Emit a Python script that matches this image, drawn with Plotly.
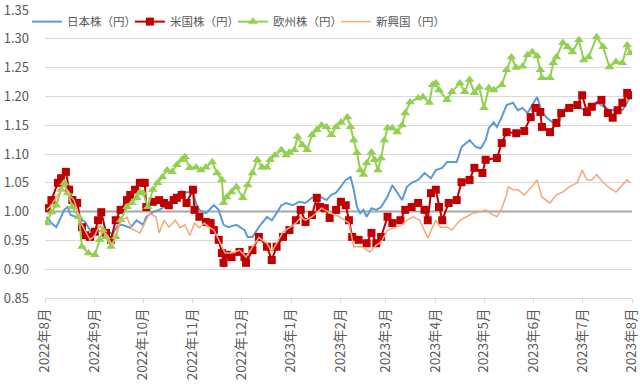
import plotly.graph_objects as go

FONT = "Noto Sans CJK JP"

# ---- data ----
series_names = ["日本株（円）", "米国株（円）", "欧州株（円）", "新興国（円）"]

jp_dates = ["2022-08-02","2022-08-05","2022-08-08","2022-08-10","2022-08-13","2022-08-15","2022-08-17","2022-08-20","2022-08-22","2022-08-26","2022-08-30","2022-09-04","2022-09-08","2022-09-12","2022-09-15","2022-09-18","2022-09-23","2022-09-27","2022-10-01","2022-10-03","2022-10-07","2022-10-11","2022-10-16","2022-10-20","2022-10-22","2022-10-25","2022-10-28","2022-11-01","2022-11-03","2022-11-05","2022-11-09","2022-11-13","2022-11-14","2022-11-17","2022-11-20","2022-11-23","2022-11-28","2022-12-03","2022-12-05","2022-12-08","2022-12-12","2022-12-17","2022-12-20","2022-12-23","2022-12-26","2022-12-29","2023-01-02","2023-01-06","2023-01-10","2023-01-14","2023-01-19","2023-01-23","2023-01-26","2023-01-29","2023-02-01","2023-02-04","2023-02-07","2023-02-09","2023-02-11","2023-02-13","2023-02-15","2023-02-17","2023-02-20","2023-02-23","2023-02-26","2023-03-02","2023-03-05","2023-03-08","2023-03-11","2023-03-14","2023-03-17","2023-03-21","2023-03-25","2023-03-29","2023-04-01","2023-04-05","2023-04-08","2023-04-14","2023-04-17","2023-04-22","2023-04-26","2023-04-29","2023-05-02","2023-05-04","2023-05-07","2023-05-09","2023-05-12","2023-05-15","2023-05-19","2023-05-22","2023-05-25","2023-05-28","2023-05-31","2023-06-03","2023-06-06","2023-06-09","2023-06-13","2023-06-17","2023-06-21","2023-06-28","2023-07-02","2023-07-10","2023-07-18","2023-07-26","2023-07-31"]
jp_values = [0.991,0.980,0.973,0.985,1.003,1.008,0.994,0.991,0.989,0.982,0.963,0.975,0.968,0.961,0.975,0.977,0.972,0.985,0.977,0.991,0.999,1.003,1.011,1.020,1.029,1.035,1.033,1.035,1.013,1.003,0.997,1.008,1.011,1.003,0.977,0.973,0.977,0.968,0.956,0.956,0.973,0.991,0.985,0.997,1.011,1.015,1.011,1.017,1.015,1.024,1.026,1.020,1.029,1.033,1.043,1.055,1.060,1.038,1.008,0.997,1.003,0.991,1.006,1.003,1.008,1.026,1.046,1.032,1.020,1.043,1.050,1.055,1.067,1.058,1.072,1.076,1.086,1.086,1.112,1.124,1.112,1.110,1.124,1.145,1.155,1.147,1.164,1.185,1.189,1.176,1.180,1.171,1.185,1.199,1.173,1.163,1.154,1.159,1.182,1.185,1.176,1.190,1.176,1.176,1.199]

us_dates = ["2022-08-02","2022-08-05","2022-08-09","2022-08-11","2022-08-14","2022-08-16","2022-08-18","2022-08-21","2022-08-24","2022-08-26","2022-08-29","2022-09-01","2022-09-03","2022-09-05","2022-09-08","2022-09-11","2022-09-14","2022-09-17","2022-09-21","2022-09-23","2022-09-26","2022-09-29","2022-10-02","2022-10-03","2022-10-07","2022-10-11","2022-10-14","2022-10-17","2022-10-20","2022-10-22","2022-10-25","2022-10-28","2022-11-01","2022-11-02","2022-11-05","2022-11-09","2022-11-12","2022-11-14","2022-11-17","2022-11-19","2022-11-20","2022-11-22","2022-11-25","2022-11-30","2022-12-03","2022-12-04","2022-12-08","2022-12-12","2022-12-17","2022-12-20","2022-12-23","2022-12-27","2022-12-31","2023-01-04","2023-01-07","2023-01-10","2023-01-14","2023-01-17","2023-01-19","2023-01-22","2023-01-25","2023-01-29","2023-02-01","2023-02-04","2023-02-06","2023-02-08","2023-02-12","2023-02-17","2023-02-20","2023-02-23","2023-02-26","2023-03-02","2023-03-05","2023-03-10","2023-03-13","2023-03-17","2023-03-21","2023-03-25","2023-03-27","2023-03-29","2023-04-01","2023-04-03","2023-04-05","2023-04-09","2023-04-14","2023-04-17","2023-04-22","2023-04-25","2023-04-30","2023-05-02","2023-05-09","2023-05-12","2023-05-15","2023-05-21","2023-05-26","2023-05-30","2023-06-02","2023-06-05","2023-06-06","2023-06-11","2023-06-15","2023-06-18","2023-06-23","2023-06-28","2023-07-01","2023-07-04","2023-07-07","2023-07-13","2023-07-17","2023-07-20","2023-07-23","2023-07-26","2023-07-29","2023-07-31"]
us_values = [1.006,1.020,1.050,1.058,1.069,1.038,1.020,1.015,0.973,0.959,0.956,0.965,0.985,0.999,0.963,0.951,0.985,1.003,1.020,1.029,1.038,1.050,1.050,1.008,1.017,1.020,1.015,1.011,1.020,1.024,1.029,1.015,1.038,1.003,0.991,0.982,0.980,0.968,0.951,0.928,0.911,0.925,0.921,0.930,0.921,0.911,0.933,0.956,0.939,0.916,0.939,0.956,0.968,0.985,1.003,0.982,0.994,1.024,1.008,1.006,0.989,1.003,1.017,1.011,0.985,0.956,0.951,0.945,0.963,0.945,0.956,0.991,0.980,0.985,1.003,1.008,1.015,1.003,0.985,1.032,1.038,1.008,0.985,1.015,1.020,1.051,1.055,1.076,1.067,1.090,1.093,1.119,1.138,1.136,1.140,1.164,1.180,1.173,1.147,1.138,1.154,1.171,1.180,1.185,1.202,1.173,1.182,1.194,1.171,1.163,1.176,1.189,1.206,1.202]

eu_dates = ["2022-08-02","2022-08-05","2022-08-08","2022-08-11","2022-08-13","2022-08-15","2022-08-18","2022-08-22","2022-08-24","2022-08-28","2022-09-01","2022-09-04","2022-09-06","2022-09-08","2022-09-11","2022-09-14","2022-09-17","2022-09-21","2022-09-24","2022-09-27","2022-09-29","2022-10-01","2022-10-04","2022-10-07","2022-10-10","2022-10-13","2022-10-16","2022-10-19","2022-10-22","2022-10-25","2022-10-27","2022-10-30","2022-11-03","2022-11-06","2022-11-09","2022-11-13","2022-11-16","2022-11-19","2022-11-20","2022-11-22","2022-11-25","2022-11-28","2022-12-02","2022-12-05","2022-12-08","2022-12-11","2022-12-14","2022-12-17","2022-12-19","2022-12-22","2022-12-26","2022-12-29","2022-12-31","2023-01-03","2023-01-05","2023-01-08","2023-01-11","2023-01-14","2023-01-17","2023-01-20","2023-01-23","2023-01-26","2023-01-29","2023-02-01","2023-02-05","2023-02-07","2023-02-09","2023-02-11","2023-02-13","2023-02-15","2023-02-17","2023-02-20","2023-02-22","2023-02-24","2023-02-26","2023-02-28","2023-03-02","2023-03-05","2023-03-08","2023-03-11","2023-03-13","2023-03-16","2023-03-21","2023-03-24","2023-03-28","2023-03-30","2023-04-01","2023-04-03","2023-04-08","2023-04-11","2023-04-16","2023-04-19","2023-04-22","2023-04-25","2023-04-28","2023-05-01","2023-05-04","2023-05-07","2023-05-12","2023-05-15","2023-05-18","2023-05-21","2023-05-25","2023-05-28","2023-05-31","2023-06-03","2023-06-05","2023-06-06","2023-06-11","2023-06-13","2023-06-15","2023-06-19","2023-06-22","2023-06-25","2023-06-29","2023-07-02","2023-07-05","2023-07-10","2023-07-14","2023-07-18","2023-07-22","2023-07-26","2023-07-29","2023-07-31"]
eu_values = [0.980,0.999,1.011,1.038,1.050,1.032,1.008,0.991,0.939,0.928,0.925,0.951,0.968,0.956,0.939,0.956,0.985,1.008,1.015,1.024,1.034,1.032,1.008,1.038,1.050,1.060,1.072,1.069,1.081,1.090,1.095,1.076,1.077,1.072,1.077,1.086,1.067,1.055,1.015,1.025,1.034,1.043,1.024,1.046,1.067,1.090,1.077,1.077,1.090,1.098,1.107,1.098,1.103,1.107,1.130,1.116,1.107,1.133,1.142,1.150,1.147,1.133,1.147,1.155,1.164,1.147,1.124,1.102,1.072,1.064,1.084,1.103,1.090,1.072,1.093,1.124,1.145,1.145,1.138,1.150,1.171,1.190,1.197,1.199,1.189,1.220,1.223,1.211,1.194,1.208,1.223,1.208,1.229,1.206,1.216,1.180,1.215,1.211,1.220,1.246,1.268,1.250,1.252,1.272,1.277,1.270,1.246,1.232,1.232,1.258,1.268,1.293,1.286,1.277,1.298,1.263,1.268,1.303,1.286,1.251,1.260,1.258,1.289,1.275]

em_dates = ["2022-08-02","2022-08-05","2022-08-09","2022-08-11","2022-08-13","2022-08-16","2022-08-19","2022-08-24","2022-08-29","2022-09-01","2022-09-04","2022-09-08","2022-09-12","2022-09-17","2022-09-21","2022-09-24","2022-09-27","2022-09-29","2022-10-02","2022-10-05","2022-10-09","2022-10-11","2022-10-14","2022-10-17","2022-10-21","2022-10-24","2022-10-27","2022-10-30","2022-11-02","2022-11-05","2022-11-08","2022-11-11","2022-11-14","2022-11-17","2022-11-21","2022-11-25","2022-11-30","2022-12-04","2022-12-08","2022-12-12","2022-12-17","2022-12-20","2022-12-23","2022-12-27","2022-12-31","2023-01-04","2023-01-07","2023-01-10","2023-01-14","2023-01-20","2023-01-25","2023-01-31","2023-02-06","2023-02-09","2023-02-14","2023-02-19","2023-02-23","2023-02-26","2023-03-02","2023-03-06","2023-03-11","2023-03-14","2023-03-18","2023-03-22","2023-03-27","2023-03-30","2023-04-01","2023-04-04","2023-04-08","2023-04-11","2023-04-16","2023-04-20","2023-04-24","2023-04-28","2023-05-02","2023-05-05","2023-05-09","2023-05-12","2023-05-15","2023-05-16","2023-05-19","2023-05-22","2023-05-26","2023-05-30","2023-06-03","2023-06-06","2023-06-11","2023-06-15","2023-06-19","2023-06-23","2023-06-28","2023-07-01","2023-07-04","2023-07-07","2023-07-10","2023-07-14","2023-07-18","2023-07-22","2023-07-25","2023-07-29","2023-07-31"]
em_values = [1.003,1.011,1.029,1.038,1.046,1.029,1.020,0.977,0.951,0.959,0.977,0.959,0.942,0.985,0.990,0.970,0.965,0.963,0.980,0.997,0.991,0.963,0.985,0.973,0.985,0.972,0.977,0.959,0.980,0.972,0.980,0.973,0.968,0.951,0.928,0.928,0.933,0.921,0.938,0.955,0.945,0.930,0.945,0.965,0.972,0.980,0.990,0.985,0.991,1.006,0.998,0.991,0.980,0.939,0.939,0.930,0.942,0.947,0.968,0.972,0.977,0.985,0.991,0.985,0.954,0.973,0.985,0.973,0.973,0.968,0.985,0.991,0.997,0.999,1.003,0.997,0.991,1.006,1.029,1.043,1.038,1.038,1.029,1.041,1.055,1.025,1.015,1.029,1.034,1.043,1.050,1.072,1.055,1.055,1.064,1.051,1.041,1.034,1.043,1.055,1.050]

base_dates = ["2022-08-01", "2023-08-01"]
base_values = [1.0, 1.0]

y_ticks = [0.85, 0.90, 0.95, 1.00, 1.05, 1.10, 1.15, 1.20, 1.25, 1.30, 1.35]

tick_dates = ["2022-08-01","2022-09-01","2022-10-01","2022-11-01","2022-12-01","2023-01-01",
              "2023-02-01","2023-03-01","2023-04-01","2023-05-01","2023-06-01","2023-07-01","2023-08-01"]
tick_labels = ["2022年8月","2022年9月","2022年10月","2022年11月","2022年12月","2023年1月",
               "2023年2月","2023年3月","2023年4月","2023年5月","2023年6月","2023年7月","2023年8月"]

fig = go.Figure()
fig.add_trace(go.Scatter(x=base_dates, y=base_values, mode="lines",
                         line=dict(color="#A6A6A6", width=2), showlegend=False, hoverinfo="skip"))
fig.add_trace(go.Scatter(x=jp_dates, y=jp_values, mode="lines", name=series_names[0],
                         line=dict(color="#5B9BD5", width=2)))
fig.add_trace(go.Scatter(x=us_dates, y=us_values, mode="lines+markers", name=series_names[1],
                         line=dict(color="#C00000", width=2),
                         marker=dict(symbol="square", size=8, color="#C00000")))
fig.add_trace(go.Scatter(x=eu_dates, y=eu_values, mode="lines+markers", name=series_names[2],
                         line=dict(color="#92D050", width=2),
                         marker=dict(symbol="triangle-up", size=8.5, color="#92D050")))
fig.add_trace(go.Scatter(x=em_dates, y=em_values, mode="lines", name=series_names[3],
                         line=dict(color="#F4A87C", width=1.5)))
# empty spacer entry so the last legend label is not clipped
fig.add_trace(go.Scatter(x=[None], y=[None], mode="lines", name=" ",
                         line=dict(color="rgba(0,0,0,0)", width=0), hoverinfo="skip"))

fig.update_layout(
    width=640, height=391,
    margin=dict(l=45, r=8, t=10, b=93, autoexpand=False),
    paper_bgcolor="white", plot_bgcolor="white",
    font=dict(family=FONT, size=13, color="#595959"),
    legend=dict(orientation="h", xref="container", x=0.042, xanchor="left",
                y=1.01, yanchor="top",
                bgcolor="rgba(0,0,0,0)", font=dict(size=11.5, color="#595959"),
                itemwidth=30, entrywidth=58, entrywidthmode="pixels"),
    showlegend=True,
)
fig.update_xaxes(
    type="date", range=["2022-08-01", "2023-08-01"],
    tickmode="array", tickvals=tick_dates, ticktext=tick_labels,
    tickangle=-90, tickfont=dict(size=13.5, color="#595959"), ticklabeloverflow="allow",
    showgrid=False, showline=True, linecolor="#D9D9D9", linewidth=1,
    ticks="outside", ticklen=4, tickcolor="#D9D9D9", zeroline=False, automargin=False,
)
fig.update_yaxes(
    range=[0.85, 1.35], tickmode="array", tickvals=y_ticks, tickformat=".2f",
    showgrid=True, gridcolor="#D9D9D9", gridwidth=1, zeroline=False, ticklabeloverflow="allow",
    showline=False, tickfont=dict(size=13, color="#595959"), ticklabelstandoff=15,
    automargin=False,
)

fig.write_html("out.html", config={"displayModeBar": False},
               post_script="document.body.style.margin='0px';")
